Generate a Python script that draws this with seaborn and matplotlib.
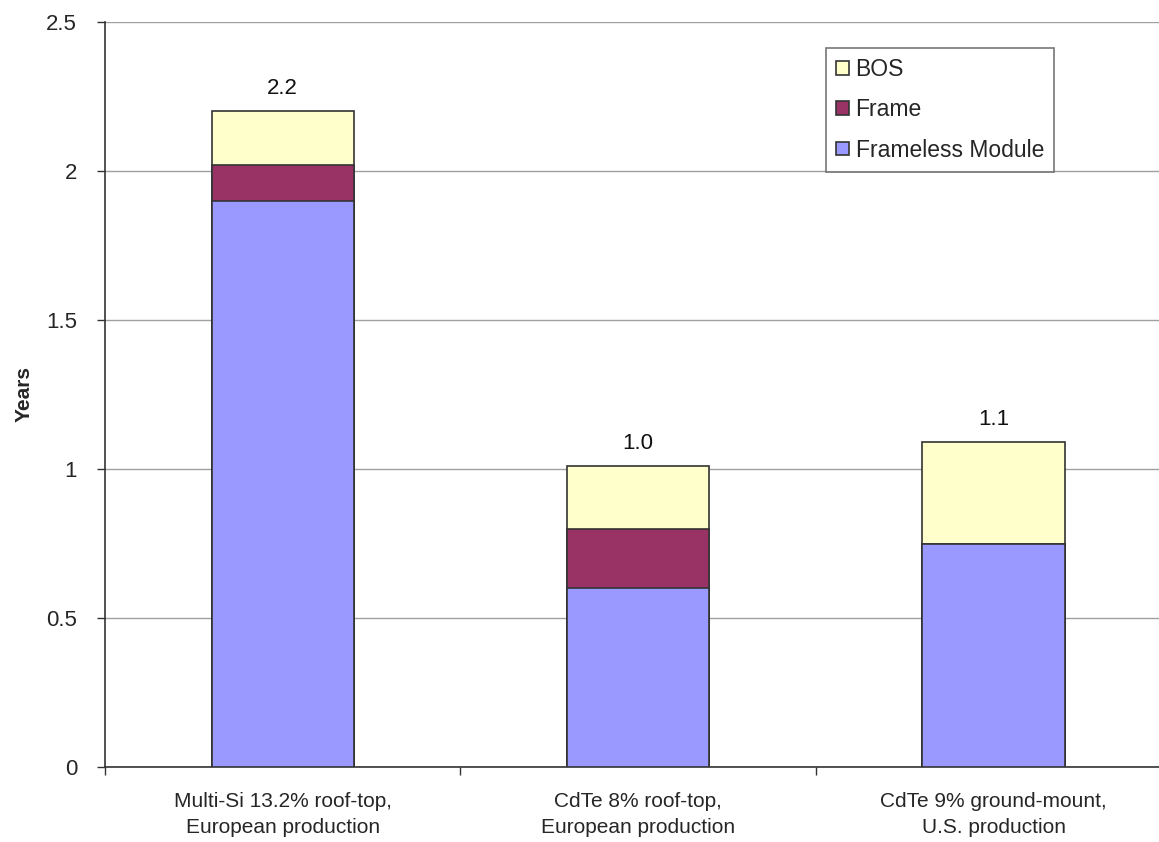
import numpy as np
import pandas as pd
import matplotlib
matplotlib.use("Agg")
import matplotlib.pyplot as plt
from matplotlib.patches import Patch
from matplotlib.ticker import FixedLocator
import seaborn as sns

# Data
categories = [
    "Multi-Si 13.2% roof-top,\nEuropean production",
    "CdTe 8% roof-top,\nEuropean production",
    "CdTe 9% ground-mount,\nU.S. production",
]
frameless = [1.90, 0.60, 0.75]
frame = [0.12, 0.20, 0.0]
bos = [0.18, 0.21, 0.34]
total_labels = ["2.2", "1.0", "1.1"]

colors = {"Frameless Module": "#9999FF", "Frame": "#993366", "BOS": "#FFFFCC"}

sns.set_theme(style="white")
plt.rcParams["font.family"] = ["Liberation Sans", "DejaVu Sans"]

df = pd.DataFrame({"category": categories, "Frameless Module": frameless,
                   "Frame": frame, "BOS": bos})
df["lvl1"] = df["Frameless Module"]
df["lvl2"] = df["lvl1"] + df["Frame"]
df["lvl3"] = df["lvl2"] + df["BOS"]

fig = plt.figure(figsize=(11.59, 8.42), dpi=100)
ax = fig.add_axes([0.0906, 0.089, 0.92, 0.885])

# stacked bars drawn as cumulative layers, tallest first
for col, name in [("lvl3", "BOS"), ("lvl2", "Frame"), ("lvl1", "Frameless Module")]:
    sns.barplot(data=df, x="category", y=col, color=colors[name], saturation=1,
                width=0.4, edgecolor="#333333", linewidth=1.2, ax=ax, zorder=3)

for i, (val, lab) in enumerate(zip(df["lvl3"], total_labels)):
    ax.text(i, val + 0.04, lab, ha="center", va="bottom", fontsize=16, color="#111111")

ax.set_xlim(-0.5, 2.5)
ax.set_ylim(0, 2.5)
ax.set_yticks([0, 0.5, 1, 1.5, 2, 2.5])
ax.set_yticklabels(["0", "0.5", "1", "1.5", "2", "2.5"])
ax.yaxis.grid(True, color="#a0a0a0", linewidth=1, zorder=0)
ax.set_axisbelow(True)

ax.set_xlabel("")
ax.set_ylabel("Years", fontsize=15, fontweight="bold", labelpad=9)
ax.tick_params(axis="y", labelsize=16, direction="out", length=6, width=1,
               color="#333333", left=True, pad=14)
ax.tick_params(axis="x", which="major", labelsize=15, length=0, pad=18)
for t in ax.get_xticklabels():
    t.set_linespacing(1.45)
ax.xaxis.set_minor_locator(FixedLocator([-0.5, 0.5, 1.5, 2.5]))
ax.tick_params(axis="x", which="minor", direction="out", length=6, width=1,
               color="#333333", bottom=True)

for s in ["top", "right"]:
    ax.spines[s].set_visible(False)
for s in ["left", "bottom"]:
    ax.spines[s].set_color("#333333")
    ax.spines[s].set_linewidth(1.2)

handles = [Patch(facecolor=colors[n], edgecolor="#333333", linewidth=1.2, label=n)
           for n in ["BOS", "Frame", "Frameless Module"]]
leg = ax.legend(handles=handles, loc="upper left", bbox_to_anchor=(0.676, 0.965),
                fontsize=16.5, frameon=True, fancybox=False, handlelength=0.55,
                handleheight=0.55, handletextpad=0.3, labelspacing=0.75,
                borderpad=0.45, borderaxespad=0, edgecolor="#555555")
leg.get_frame().set_linewidth(1.2)

fig.savefig("out.png", dpi=100)
